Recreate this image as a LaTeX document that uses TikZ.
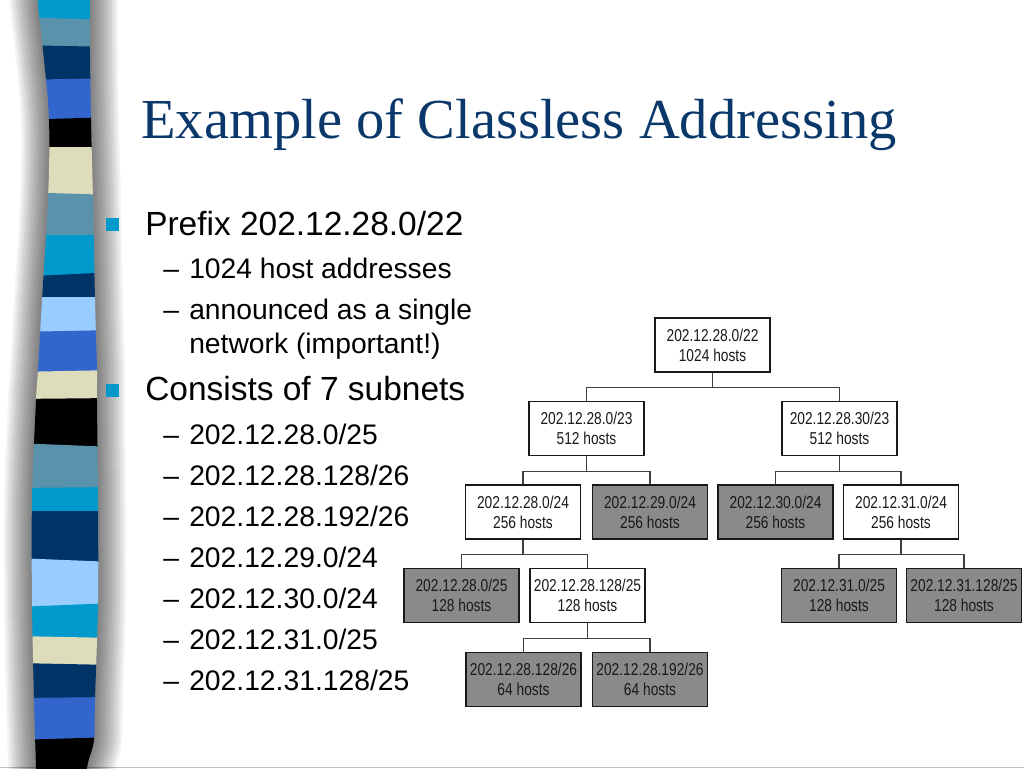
\documentclass[tikz,border=0pt]{standalone}
\usepackage{fontspec}
\setmainfont{Liberation Sans}
\newfontfamily\titlefont{Liberation Serif}
\newfontfamily\boxfont[FakeStretch=0.8]{Liberation Sans}
\definecolor{sCyan}{HTML}{0099CC}
\definecolor{sSteel}{HTML}{5A92AC}
\definecolor{sNavy}{HTML}{003366}
\definecolor{sRoyal}{HTML}{3366CC}
\definecolor{sBeige}{HTML}{DDDDBB}
\definecolor{sLight}{HTML}{99CCFF}
\definecolor{boxGray}{HTML}{8A8A8A}
\definecolor{titleBlue}{HTML}{0A386A}
\newcommand\stripeband[5]{\fill[#5] (15,#1) -- (115,#2) -- (115,#4+1) -- (15,#3+1) -- cycle;}
\def\stripepath{plot[smooth,tension=0.6] coordinates {(37.5,-40)(37.7,0)(43,50)(49,120)(48,200)(42,300)(38,370)(36,400)(32,500)(32,600)(34,700)(36,768)(36.5,808)} -- plot[smooth,tension=0.6] coordinates {(84,808)(87,768)(94,740)(95,700)(98,600)(98,500)(97,400)(97,370)(95,300)(93,200)(91,120)(90,50)(90,0)(90,-40)} -- cycle}
\tikzset{
  boxbase/.style={draw=black!90, line width=0.95pt, minimum width=86.25pt, minimum height=40.5pt,
    inner sep=0pt, align=center, font=\boxfont\fontsize{12.9}{15}\selectfont, text=black!90},
  wbox/.style={boxbase, fill=white},
  gbox/.style={boxbase, fill=boxGray},
  conn/.style={draw=black!75, line width=0.8pt},
  mainitem/.style={anchor=base west, inner sep=0pt, font=\fontsize{25.1}{30}\selectfont},
  subitem/.style={anchor=base west, inner sep=0pt, font=\fontsize{21.2}{26}\selectfont},
  bulletsq/.style={fill=sCyan, inner sep=0pt, minimum size=9.75pt}
}
\begin{document}
\begin{tikzpicture}[x=0.75pt,y=-0.75pt]
\useasboundingbox (0,0) rectangle (1024,768);
\fill[white] (0,0) rectangle (1024,768);
% bottom edge line
\draw[black!25, line width=0.75pt] (0,767) -- (1024,767);
% stripe shadow
\foreach \w in {4,8,...,56} {
  \draw[line width=\w*0.75pt, black, opacity=0.045, line join=round] \stripepath;
}
% stripe
\begin{scope}
\clip \stripepath;
\stripeband{-50}{-50}{17}{20}{sCyan}
\stripeband{17}{20}{45}{47}{sSteel}
\stripeband{45}{47}{80}{78}{sNavy}
\stripeband{80}{78}{120}{117}{sRoyal}
\stripeband{120}{117}{147}{147}{black}
\stripeband{147}{147}{192}{195}{sBeige}
\stripeband{192}{195}{235}{235}{sSteel}
\stripeband{235}{235}{277}{272}{sCyan}
\stripeband{277}{272}{297}{297}{sNavy}
\stripeband{297}{297}{332}{330}{sLight}
\stripeband{332}{330}{372}{370}{sRoyal}
\stripeband{372}{370}{399}{398}{sBeige}
\stripeband{399}{398}{443}{447}{black}
\stripeband{443}{447}{488}{487}{sSteel}
\stripeband{488}{487}{511}{511}{sCyan}
\stripeband{511}{511}{558}{562}{sNavy}
\stripeband{558}{562}{607}{603}{sLight}
\stripeband{607}{603}{636}{638}{sCyan}
\stripeband{636}{638}{663}{665}{sBeige}
\stripeband{663}{665}{698}{697}{sNavy}
\stripeband{698}{697}{740}{737}{sRoyal}
\stripeband{740}{737}{820}{820}{black}
\end{scope}
% title
\node[anchor=base west, inner sep=0pt, font=\titlefont\fontsize{42.4}{50}\selectfont, text=titleBlue] (title) at (141,138) {Example of Classless Addressing};
% bullets
\node[bulletsq] (sq1) at (112.5,224.5) {};
\node[mainitem] (t1) at (145,235) {Prefix 202.12.28.0/22};
\node[subitem] (d1) at (163,278) {–};
\node[subitem] (s1) at (189,278) {1024 host addresses};
\node[subitem] (d2) at (163,319) {–};
\node[subitem] (s2) at (189,319) {announced as a single};
\node[subitem] (s2b) at (189,353) {network (important!)};
\node[bulletsq] (sq2) at (112.5,390.5) {};
\node[mainitem] (t2) at (145,400) {Consists of 7 subnets};
\foreach \txt [count=\i from 0] in {202.12.28.0/25,202.12.28.128/26,202.12.28.192/26,202.12.29.0/24,202.12.30.0/24,202.12.31.0/25,202.12.31.128/25} {
  \node[subitem] (dd\i) at (163,444+41*\i) {–};
  \node[subitem] (ss\i) at (189,444+41*\i) {\txt};
}
% tree
\node[wbox] (root) at (712.5,345) {202.12.28.0/22\\1024 hosts};
\node[wbox] (a) at (586.5,428.5) {202.12.28.0/23\\512 hosts};
\node[wbox] (b) at (839.5,428.5) {202.12.28.30/23\\512 hosts};
\node[wbox] (aa) at (523,512) {202.12.28.0/24\\256 hosts};
\node[gbox] (ab) at (650,512) {202.12.29.0/24\\256 hosts};
\node[gbox] (ba) at (775.5,512) {202.12.30.0/24\\256 hosts};
\node[wbox] (bb) at (901,512) {202.12.31.0/24\\256 hosts};
\node[gbox] (aaa) at (461.5,595.5) {202.12.28.0/25\\128 hosts};
\node[wbox] (aab) at (587.5,595.5) {202.12.28.128/25\\128 hosts};
\node[gbox] (bba) at (839,595.5) {202.12.31.0/25\\128 hosts};
\node[gbox] (bbb) at (964,595.5) {202.12.31.128/25\\128 hosts};
\node[gbox] (aaba) at (523.5,679.5) {202.12.28.128/26\\64 hosts};
\node[gbox] (aabb) at (650,679.5) {202.12.28.192/26\\64 hosts};
\foreach \p/\c in {root/a,root/b,a/aa,a/ab,b/ba,b/bb,aa/aaa,aa/aab,bb/bba,bb/bbb,aab/aaba,aab/aabb} {
  \draw[conn] (\p.south) -- ++(0,15) -| (\c.north);
}
\end{tikzpicture}
\end{document}
